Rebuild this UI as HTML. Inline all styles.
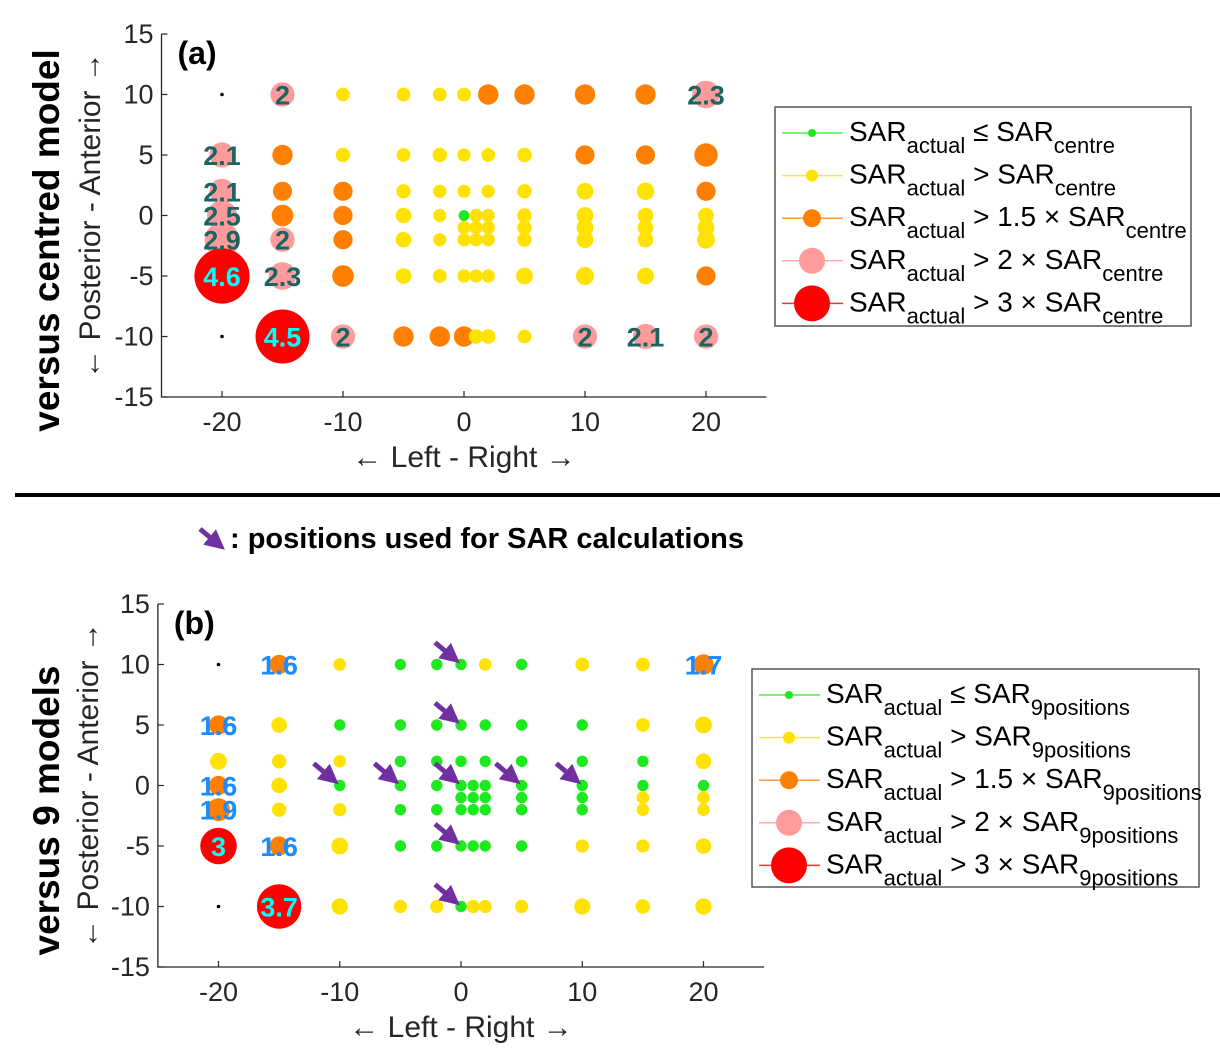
<!DOCTYPE html>
<html><head><meta charset="utf-8">
<style>
html,body{margin:0;padding:0;background:#fff;}
svg{display:block;font-family:"Liberation Sans",Arial,sans-serif;}
</style></head>
<body>
<svg id="fig" width="1220" height="1061" viewBox="0 0 1220 1061" xmlns="http://www.w3.org/2000/svg">
<defs>
<marker id="ah" markerWidth="4" markerHeight="4" refX="2.2" refY="2" orient="auto" markerUnits="strokeWidth"><path d="M0,0 L4,2 L0,4 Z" fill="#7030a0"/></marker>
</defs>
<g id="root"></g>
</svg>
<script>
// ---- data ----
const xTicks = [-20,-10,0,10,20];
const yTicks = [15,10,5,0,-5,-10,-15];
const ptsA_x = [-20,-15,-10,-5,-2,0,2,5,10,15,20, -20,-15,-10,-5,-2,0,2,5,10,15,20, -20,-15,-10,-5,-2,0,2,5,10,15,20, -20,-15,-10,-5,-2,0,1,2,5,10,15,20, 0,1,2,5,10,15,20, -20,-15,-10,-5,-2,0,1,2,5,10,15,20, -20,-15,-10,-5,-2,0,1,2,5,10,15,20, -20,-15,-10,-5,-2,0,1,2,5,10,15,20];
const ptsA_y = [10,10,10,10,10,10,10,10,10,10,10, 5,5,5,5,5,5,5,5,5,5,5, 2,2,2,2,2,2,2,2,2,2,2, 0,0,0,0,0,0,0,0,0,0,0,0, -1,-1,-1,-1,-1,-1,-1, -2,-2,-2,-2,-2,-2,-2,-2,-2,-2,-2,-2, -5,-5,-5,-5,-5,-5,-5,-5,-5,-5,-5,-5, -10,-10,-10,-10,-10,-10,-10,-10,-10,-10,-10,-10];
const ptsA_r = [null,2.02,1.15,1.15,1.15,1.15,1.7,1.7,1.7,1.7,2.3, 2.1,1.7,1.2,1.15,1.2,1.1,1.15,1.2,1.6,1.6,1.95, 2.1,1.6,1.6,1.2,1.1,1.1,1.1,1.2,1.4,1.45,1.6, 2.5,1.8,1.6,1.3,1.1,0.9,1.1,1.1,1.2,1.4,1.3,1.3, 1.1,1.1,1.1,1.2,1.4,1.3,1.4, 2.9,2.02,1.6,1.3,1.1,1.1,1.1,1.1,1.2,1.4,1.3,1.5, 4.6,2.3,1.8,1.3,1.15,1.1,1.1,1.1,1.4,1.5,1.4,1.6, null,4.5,2.02,1.7,1.7,1.7,1.2,1.2,1.15,2.02,2.1,2.02];
const ptsB_x = ptsA_x;
const ptsB_y = ptsA_y;
const ptsB_r = [null,1.6,1.05,0.95,0.95,0.95,1.05,0.95,1.15,1.15,1.7, 1.6,1.3,0.95,0.95,0.95,0.95,0.95,0.95,0.95,1.15,1.4, 1.4,1.2,1.05,0.95,0.95,0.95,0.95,0.95,0.95,0.95,1.3, 1.6,1.3,0.95,0.95,0.95,0.95,0.95,0.95,0.95,0.95,0.95,0.95, 0.95,0.95,0.95,0.95,0.95,1.05,1.05, 1.9,1.2,1.1,0.95,0.95,0.95,0.95,0.95,0.95,0.95,1.05,1.05, 3.04,1.6,1.4,0.95,0.95,0.95,0.95,0.95,0.95,1.1,1.1,1.3, null,3.7,1.35,1.1,1.1,0.95,1.1,1.1,1.1,1.35,1.2,1.35];
const arrowX = [0,0,-10,-5,0,5,10,0,0];
const arrowY = [10,5,0,0,0,0,0,-5,-10];
const legendRatiosR = [4,6,9,13,18];
const legendA = [["≤",""],[">",""],[">","1.5 × "],[">","2 × "],[">","3 × "]];

const NS="http://www.w3.org/2000/svg";
const root=document.getElementById('root');
function el(tag,attrs,parent,text){const e=document.createElementNS(NS,tag);for(const k in attrs)e.setAttribute(k,attrs[k]);if(text!==undefined)e.textContent=text;(parent||root).appendChild(e);return e;}
const COLORS=['#1ee81e','#ffe200','#ff8000','#ff9b9b','#ff0000'];
function cat(r){return r>3?4:r>2?3:r>1.5?2:r>1?1:0;}

function panel(P){
  const g=el('g',{});
  
  
  const sx=v=>P.x0+(v)*P.kx, sy=v=>P.y0-(v)*P.ky;
  const L=sx(-25),R=sx(25),T=sy(15),B=sy(-15);
  const ax=el('path',{d:`M${L},${T} L${L},${B} L${R},${B}`,stroke:'#262626','stroke-width':1.3,fill:'none'},g);
  
  xTicks.forEach(t=>{
    el('line',{x1:sx(t),x2:sx(t),y1:B,y2:B-6,stroke:'#262626','stroke-width':1.2},g);
    const tx=el('text',{x:sx(t),y:B+34,'font-size':27,fill:'#262626','text-anchor':'middle'},g,String(t));
    
  });
  yTicks.forEach(t=>{
    el('line',{x1:L,x2:L+6,y1:sy(t),y2:sy(t),stroke:'#262626','stroke-width':1.2},g);
    const tx=el('text',{x:L-8,y:sy(t)+9,'font-size':27,fill:'#262626','text-anchor':'end'},g,String(t));
    
  });
  const xt=el('text',{x:sx(0),y:B+70,'font-size':30,fill:'#262626','text-anchor':'middle'},g,'← Left - Right →');
  
  const yt=el('text',{x:0,y:0,'font-size':30,fill:'#262626','text-anchor':'middle',transform:`translate(${P.ytX},${sy(0)}) rotate(-90)`},g,'← Posterior - Anterior →');
  
  const rt=el('text',{x:0,y:0,'font-size':37,'font-weight':'bold',fill:'#000','text-anchor':'middle',transform:`translate(${P.rowX},${sy(0)+P.rowDy}) rotate(-90)`},g,P.rowTitle);
  
  const pl=el('text',{x:L+16,y:T+30,'font-size':32,'font-weight':'bold',fill:'#000'},g,P.label);
  
  const labels=[];
  for(let i=0;i<P.xs.length;i++){
    const r=P.rs[i],cx=sx(P.xs[i]),cy=sy(P.ys[i]);
    if(r===null){const d=el('circle',{cx,cy,r:1.8,fill:'#000'},g);continue;}
    const c=cat(r);
    const m=el('circle',{cx,cy,r:6*r,fill:COLORS[c]},g);
    
    
    if(r>P.labelMin) labels.push([cx,cy,r,c]);
  }
  labels.forEach(([cx,cy,r,c])=>{
    const s=(Math.round(r*10)/10).toString();
    const col=c===4?'#00ffff':P.labelColor;
    const t=el('text',{x:cx,y:cy+10,'font-size':27,'font-weight':'bold',fill:col,'text-anchor':'middle'},g,s);
    
    
  });
  if(P.arrows){
    for(let i=0;i<arrowX.length;i++){
      const cx=sx(arrowX[i]),cy=sy(arrowY[i]);
      const a=el('line',{x1:cx-26,y1:cy-22,x2:cx-8,y2:cy-7,stroke:'#7030a0','stroke-width':5,'marker-end':'url(#ah)'},g);
      
      
    }
  }
  const lg=el('g',{},g);
  
  el('rect',{x:P.lgX,y:P.lgY,width:P.lgW,height:P.lgH,fill:'#fff',stroke:'#555','stroke-width':1.5},lg);
  legendA.forEach((e,i)=>{
    const y=P.lgY+26+i*42.6;
    const lx=P.lgX+7;
    const en=el('g',{},lg);
    
    el('line',{x1:lx,x2:lx+61,y1:y,y2:y,stroke:COLORS[i],'stroke-width':1.5,opacity:0.8},en);
    el('circle',{cx:lx+30,cy:y,r:legendRatiosR[i],fill:COLORS[i]},en);
    const t=el('text',{x:lx+67,y:y+8,'font-size':28,fill:'#000'},en);
    el('tspan',{},t,'SAR');
    el('tspan',{dy:12,'font-size':22},t,'actual');
    el('tspan',{dy:-12},t,' '+e[0]+' '+e[1]+'SAR');
    el('tspan',{dy:12,'font-size':22},t,P.sub);
  });
}

panel({name:'panel-a-chart',x0:464,kx:12.1,y0:215.5,ky:12.1,xs:ptsA_x,ys:ptsA_y,rs:ptsA_r,labelMin:2,labelColor:'#1b6464',
  ytX:100,rowX:59,rowDy:25,rowTitle:'versus centred model',label:'(a)',lgX:775,lgY:107,lgW:416,lgH:219,sub:'centre',arrows:false});
panel({name:'panel-b-chart',x0:461,kx:12.125,y0:785.5,ky:12.1,xs:ptsB_x,ys:ptsB_y,rs:ptsB_r,labelMin:1.5,labelColor:'#1a8cff',
  ytX:98,rowX:59,rowDy:25,rowTitle:'versus 9 models',label:'(b)',lgX:752,lgY:669,lgW:447,lgH:218,sub:'9positions',arrows:true});

const sep=el('line',{x1:15,x2:1220,y1:495,y2:495,stroke:'#000','stroke-width':4});

const ka=el('line',{x1:200,y1:529,x2:218,y2:544,stroke:'#7030a0','stroke-width':5,'marker-end':'url(#ah)'});

const kt=el('text',{x:230,y:548,'font-size':29,'font-weight':'bold',fill:'#000'},root,': positions used for SAR calculations');

</script>
</body></html>
